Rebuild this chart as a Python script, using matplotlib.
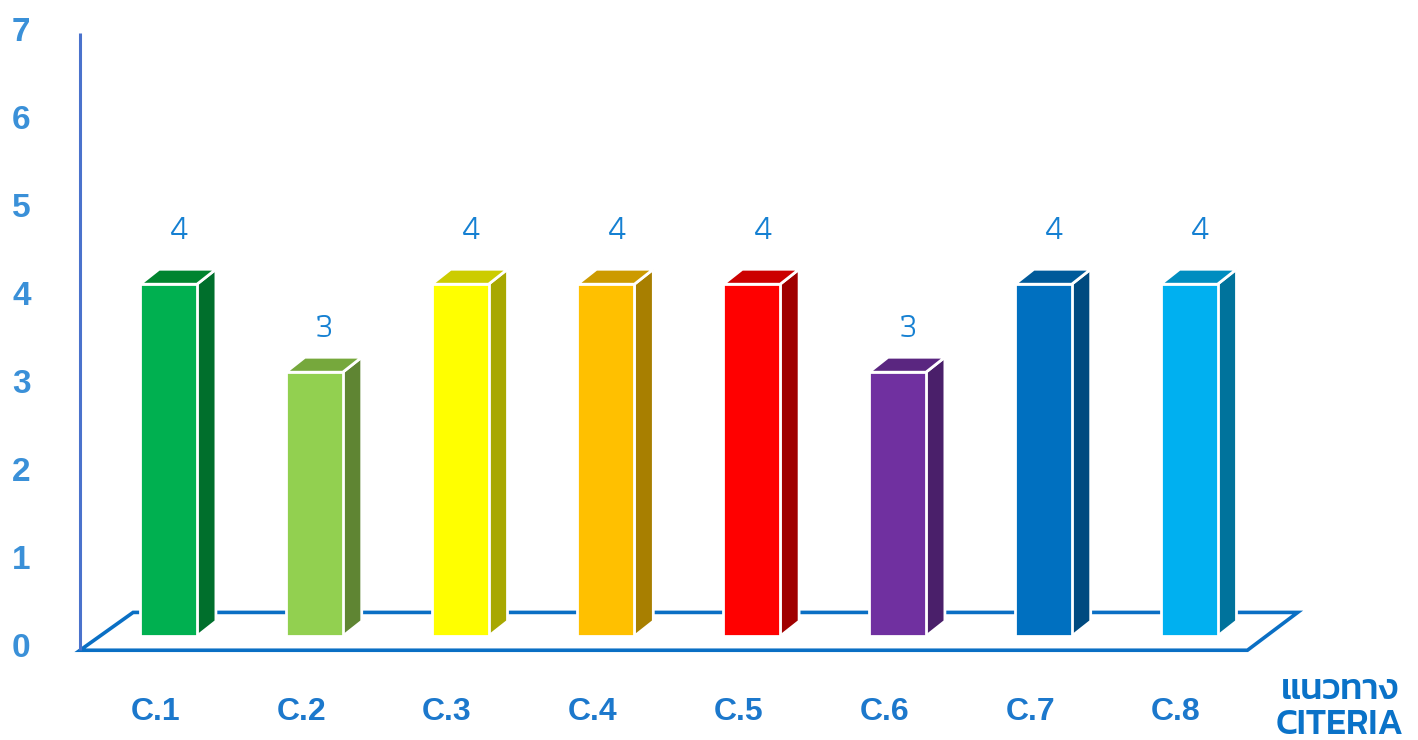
import matplotlib
matplotlib.use("Agg")
import matplotlib.pyplot as plt
from matplotlib.patches import Polygon

categories = ['C.1', 'C.2', 'C.3', 'C.4', 'C.5', 'C.6', 'C.7', 'C.8']
values = [4, 3, 4, 4, 4, 3, 4, 4]
front_colors = ['#00B050', '#92D050', '#FFFF00', '#FFC000',
                '#FF0000', '#7030A0', '#0070C0', '#00B0F0']
top_colors = ['#00842F', '#76A83C', '#CCCC00', '#CC9A00',
              '#CC0000', '#5A2680', '#005A9A', '#008DC0']
side_colors = ['#006F2C', '#5F8533', '#A8A800', '#A87F00',
               '#A00000', '#4A1F6A', '#004A80', '#00739C']
yticks = [0, 1, 2, 3, 4, 5, 6, 7]

W = 0.39      # front face width (category units)
DX = 0.13     # depth offset x
DY = 0.17     # depth offset y (value units)

fig = plt.figure(figsize=(14.18, 7.40), dpi=100)
ax = fig.add_axes([0, 0, 1, 1])
ax.set_xlim(-1.156, 8.57)
ax.set_ylim(-1.18, 7.23)
ax.axis('off')

floor_blue = '#0A6FC4'
# floor parallelogram
fl = Polygon([(-0.607, -0.16), (7.40, -0.16), (7.745, 0.27), (-0.243, 0.27)],
             closed=True, fill=False, edgecolor=floor_blue, lw=2.6, zorder=1)
ax.add_patch(fl)
# vertical axis
ax.plot([-0.607, -0.607], [-0.16, 6.86], color='#4A72CC', lw=2.2, zorder=1,
        solid_capstyle='butt')

for i, (v, fc, tc, sc) in enumerate(zip(values, front_colors, top_colors, side_colors)):
    x0 = i - W / 2
    x1 = i + W / 2
    front = Polygon([(x0, 0), (x1, 0), (x1, v), (x0, v)], closed=True,
                    facecolor=fc, edgecolor='white', lw=2, zorder=3)
    side = Polygon([(x1, 0), (x1 + DX, DY), (x1 + DX, v + DY), (x1, v)], closed=True,
                   facecolor=sc, edgecolor='white', lw=2, zorder=2)
    top = Polygon([(x0, v), (x1, v), (x1 + DX, v + DY), (x0 + DX, v + DY)], closed=True,
                  facecolor=tc, edgecolor='white', lw=2, zorder=2)
    for p in (side, top, front):
        ax.add_patch(p)
    ax.text(i + 0.07, 1.12 * v + 0.135, str(v), ha='center', va='center',
            fontsize=26, color='#1580D2', family=['Athiti', 'DejaVu Sans'],
            fontweight='normal', zorder=4)
    ax.text(i - 0.09, -0.86, categories[i], ha='center', va='center',
            fontsize=23, color='#1C78CC', family=['Liberation Sans', 'DejaVu Sans'],
            fontweight='bold', zorder=4)

for t in yticks:
    ax.text(-1.01, t - 0.145, str(t), ha='center', va='center', fontsize=24,
            color='#3A90D8', family=['Liberation Sans', 'DejaVu Sans'],
            fontweight='bold')

ax.text(8.035, -0.62, 'แนวทาง', ha='center', va='center', fontsize=26,
        color='#0A72C8', family=['Kanit', 'Prompt', 'Athiti', 'DejaVu Sans'],
        fontweight='medium')
ax.text(8.035, -1.01, 'CITERIA', ha='center', va='center', fontsize=26,
        color='#0A72C8', family=['Kanit', 'Prompt', 'Athiti', 'DejaVu Sans'],
        fontweight='medium')

fig.savefig('out.png', dpi=100)
